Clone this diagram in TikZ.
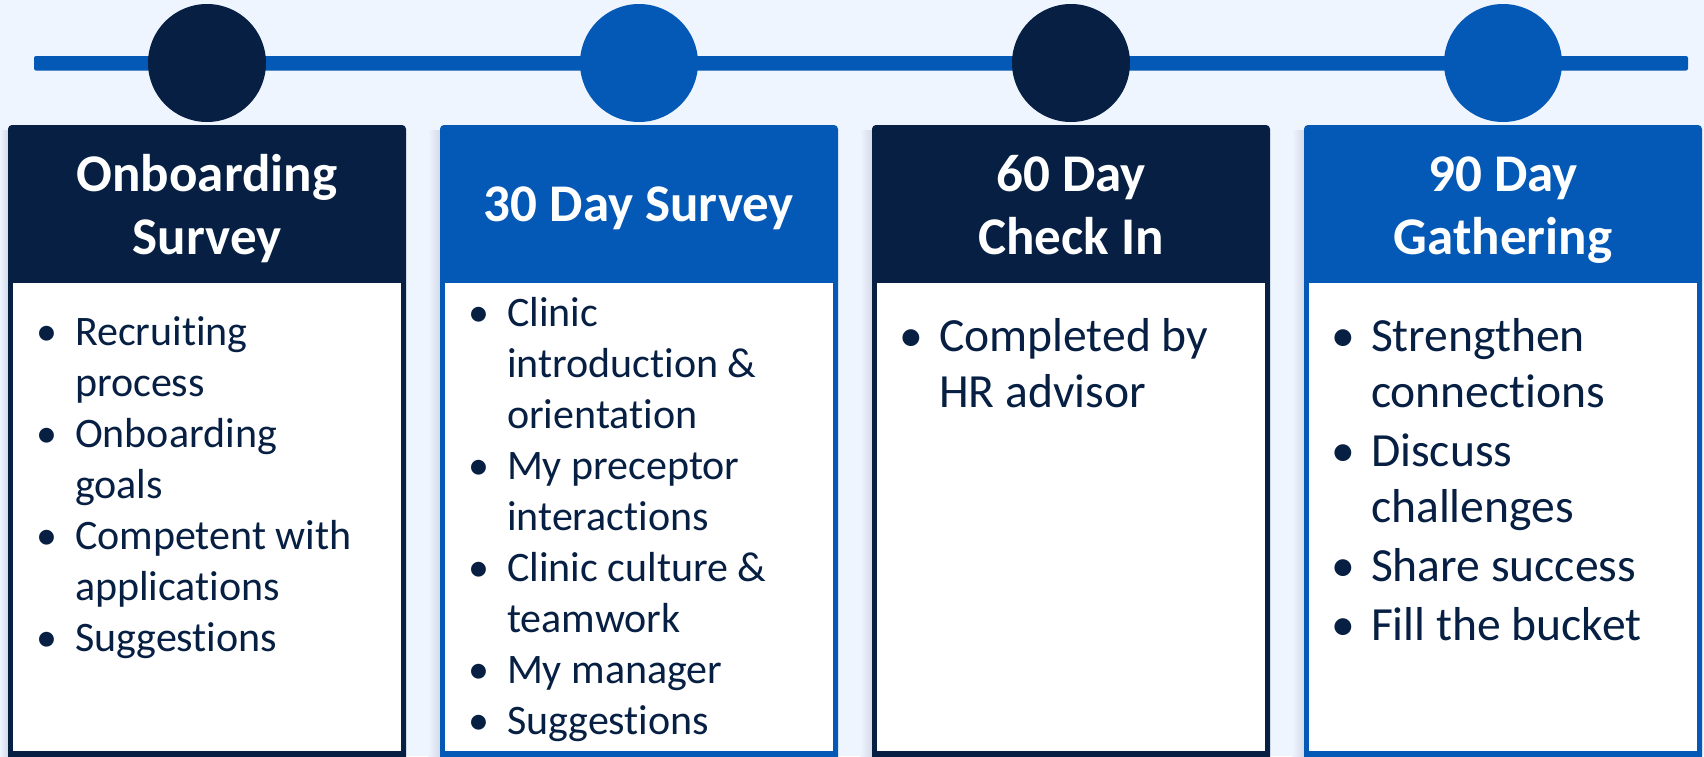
\documentclass[tikz,border=0pt]{standalone}
\usepackage{fontspec}
\setmainfont[Ligatures={NoCommon}]{Carlito}
\definecolor{navy}{RGB}{6,31,66}
\definecolor{royal}{RGB}{5,89,182}
\definecolor{paper}{RGB}{238,245,255}
\definecolor{shadowgray}{RGB}{212,219,232}
\newcommand{\bul}{\makebox[28pt][c]{\textbullet}}
\newcommand{\headfont}{\fontsize{26.5}{31.5}\selectfont\bfseries}
\newcommand{\smallbody}{\fontsize{21}{25.5}\selectfont}
\newcommand{\largebody}{\fontsize{23.8}{28}\selectfont}
\tikzset{
  headtext/.style={anchor=base, inner sep=0pt, text=white, font=\headfont},
  bodytext/.style={anchor=base west, inner sep=0pt, text=navy},
}
\begin{document}
\begin{tikzpicture}[x=0.5pt, y=-0.5pt]
\def\boxwidth{398}
\def\boxmid{199}
\fill[paper] (0,0) rectangle (1704,756);
\useasboundingbox (0,0) rectangle (1704,756);

% timeline
\fill[royal, rounded corners=1pt] (34,56) rectangle (1688,70.5);

\begin{scope}[shift={(8,0)}] % FIRST BOX
\shade[left color=paper, right color=shadowgray] (-8,130) rectangle (0,756);
\fill[navy, rounded corners=2pt] (0,125) rectangle (\boxwidth,762);
\fill[white] (5,283) rectangle (393,751);
\fill[navy] (\boxmid,63) circle (59);
\node (onbhead) [headtext] at (\boxmid,191.5) {\begin{tabular}[t]{@{}c@{}}Onboarding\\Survey\end{tabular}};
\node (onbbody) [bodytext, font=\smallbody] at (10.7,345) {\begin{tabular}[t]{@{}l@{}l@{}}
\bul & Recruiting\\ & process\\
\bul & Onboarding\\ & goals\\
\bul & Competent with\\ & applications\\
\bul & Suggestions
\end{tabular}};
\end{scope}

\begin{scope}[shift={(440,0)}] % SECOND BOX
\shade[left color=paper, right color=shadowgray] (-12,130) rectangle (0,756);
\fill[royal, rounded corners=2pt] (0,125) rectangle (\boxwidth,762);
\fill[white] (5,283) rectangle (393,751);
\fill[royal] (\boxmid,63) circle (59);
\node (thirtyhead) [headtext] at (\boxmid,221.7) {30 Day Survey};
\node (thirtybody) [bodytext, font=\smallbody] at (10.7,326.7) {\begin{tabular}[t]{@{}l@{}l@{}}
\bul & Clinic\\ & introduction \&\\ & orientation\\
\bul & My preceptor\\ & interactions\\
\bul & Clinic culture \&\\ & teamwork\\
\bul & My manager\\
\bul & Suggestions
\end{tabular}};
\end{scope}

\begin{scope}[shift={(872,0)}] % THIRD BOX
\shade[left color=paper, right color=shadowgray] (-12,130) rectangle (0,756);
\fill[navy, rounded corners=2pt] (0,125) rectangle (\boxwidth,762);
\fill[white] (5,283) rectangle (393,751);
\fill[navy] (\boxmid,63) circle (59);
\node (sixtyhead) [headtext] at (\boxmid,191.5) {\begin{tabular}[t]{@{}c@{}}60 Day\\Check In\end{tabular}};
\node (sixtybody) [bodytext, font=\largebody] at (10.7,351.5) {\begin{tabular}[t]{@{}l@{}l@{}}
\bul & Completed by\\ & HR advisor
\end{tabular}};
\end{scope}

\begin{scope}[shift={(1304,0)}] % FOURTH BOX
\shade[left color=paper, right color=shadowgray] (-12,130) rectangle (0,756);
\fill[royal, rounded corners=2pt] (0,125) rectangle (\boxwidth,762);
\fill[white] (5,283) rectangle (393,751);
\fill[royal] (\boxmid,63) circle (59);
\node (ninetyhead) [headtext] at (\boxmid,191.5) {\begin{tabular}[t]{@{}c@{}}90 Day\\Gathering\end{tabular}};
\node (ninetybody) [bodytext, font=\largebody] at (10.7,351) {\begin{tabular}[t]{@{}l@{}l@{}}
\bul & Strengthen\\ & connections\\[1.5pt]
\bul & Discuss\\ & challenges\\[1.5pt]
\bul & Share success\\[1.5pt]
\bul & Fill the bucket
\end{tabular}};
\end{scope}
\end{tikzpicture}
\end{document}
